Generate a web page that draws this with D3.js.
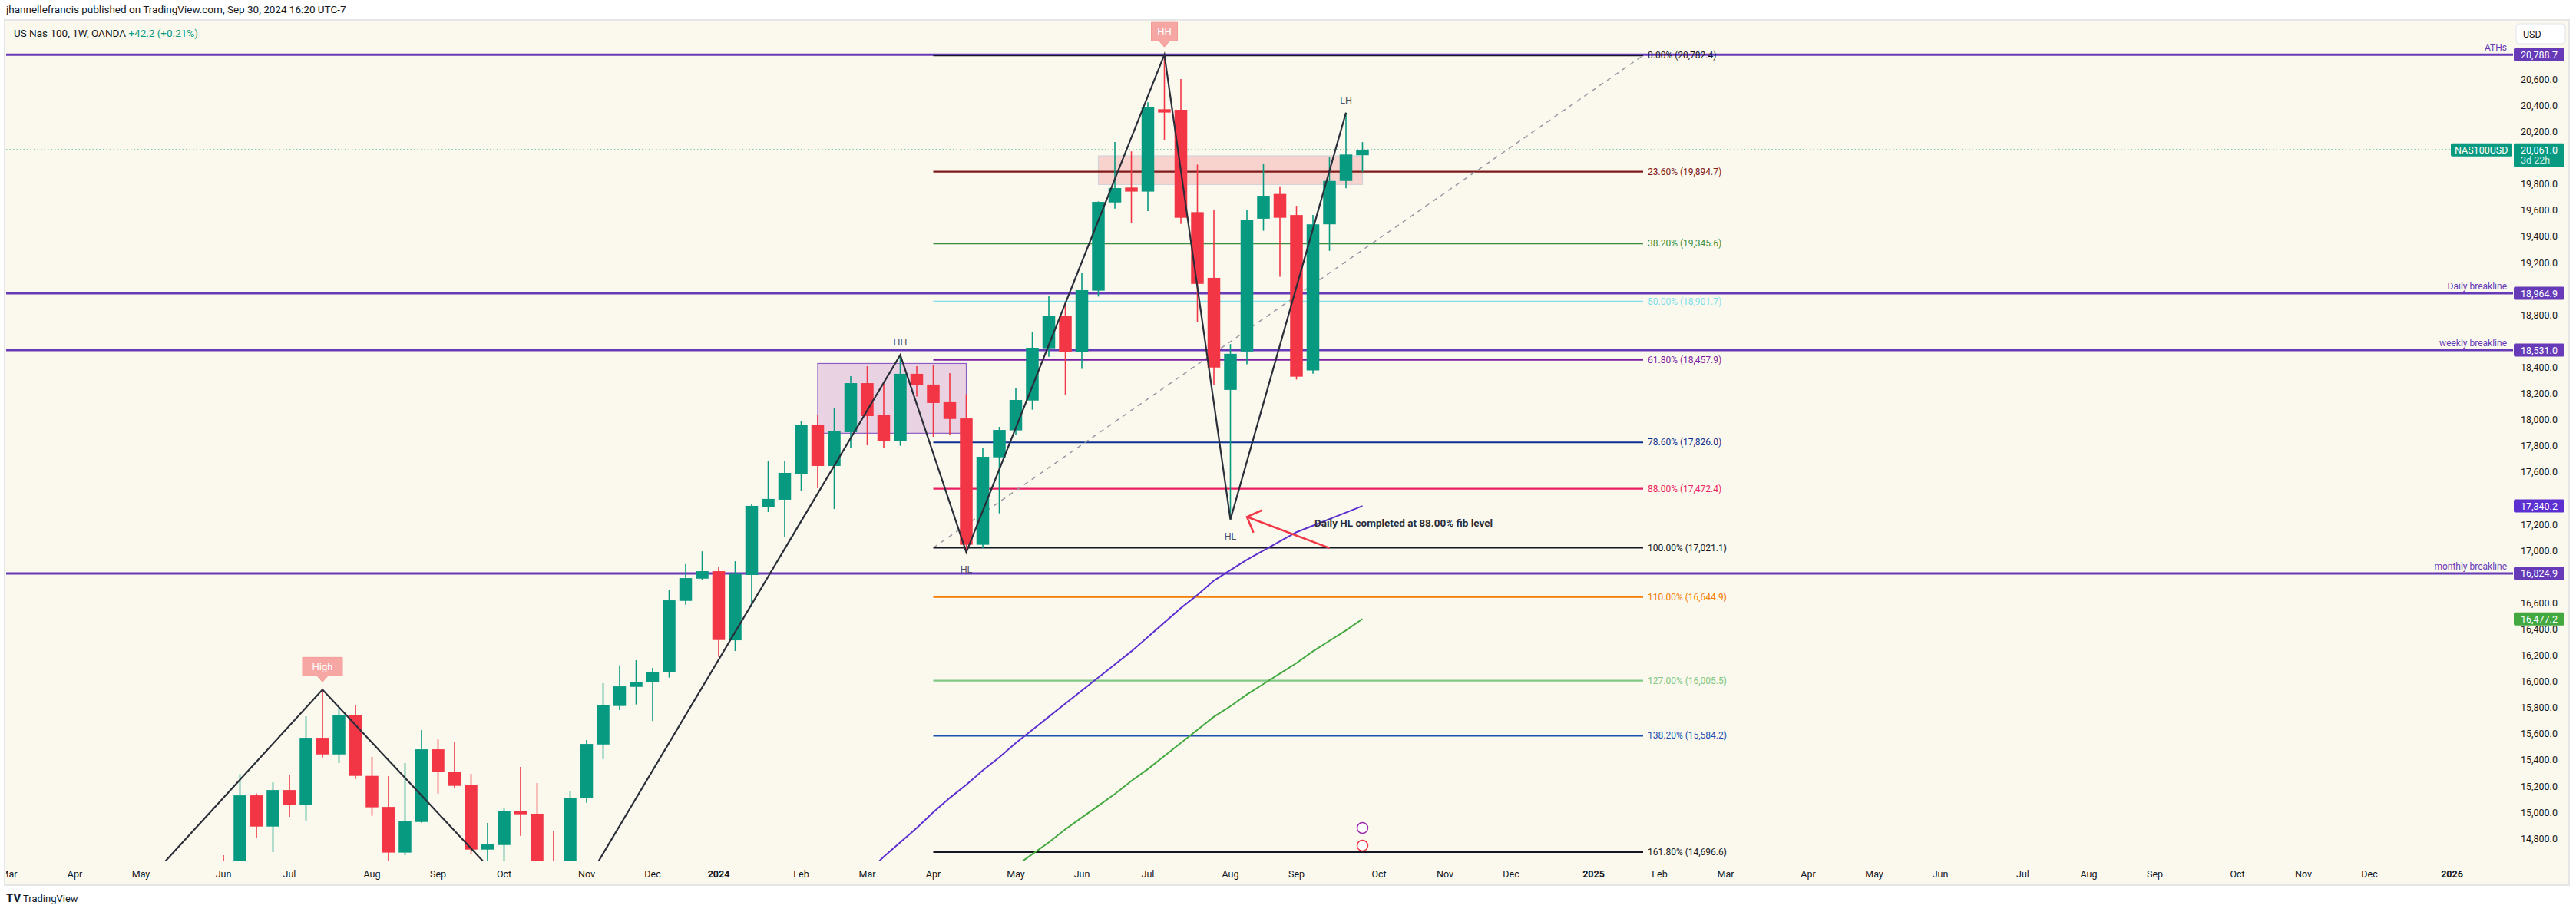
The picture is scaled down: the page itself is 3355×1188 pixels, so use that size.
<!DOCTYPE html>
<html><head><meta charset="utf-8">
<script src="https://cdn.jsdelivr.net/npm/d3@7"></script>
<style>body{margin:0;background:#fff}svg{display:block;font-family:Roboto,"Noto Sans",sans-serif}</style>
</head><body><svg id="c" width="3355" height="1188"></svg>
<script>
// ---------- DATA ----------
const firstWeek = "2023-06-05";
const opens  = [14560,14500,15129,14891,15170,15055,15569,15442,15745,15278,15041,14692,14926,15481,15311,15206,14715,14750,15012,14989,14520,14200,15108,15518,15812,15958,15994,16070,16615,16785,16842,16314,16813,17335,17388,17587,17957,17646,17904,18279,18033,17835,18350,18268,18133,18009,17044,17712,17918,18146,18545,18795,18516,18985,19659,19773,19742,20371,20367,19585,19083,18227,18521,19535,19724,19563,18376,19492,19823,20020];
const highs  = [14672,15292,15145,15229,15282,15734,15937,15800,15816,15423,15276,15376,15628,15556,15540,15294,14918,15032,15346,15223,14860,15159,15552,15986,16123,16162,16103,16696,16897,16994,16871,16918,17353,17681,17681,17986,18039,18092,18332,18408,18273,18494,18408,18414,18355,18195,17781,17945,18244,18666,18942,18901,19118,19667,20121,20049,20424,20788.7,20602,19948,19601,18577,19599,19955,19782,19633,19563,20004,20345,20120];
const lows   = [14300,14480,14803,14696,14965,14938,15419,15376,15255,14973,14608,14672,14920,15143,15184,14680,14560,14608,14820,14480,14050,14150,15073,15407,15781,15824,15697,16029,16586,16774,16189,16232,16567,17294,17106,17458,17476,17317,17786,17804,17781,17800,18176,17869,17880,16983,17018,17284,17882,18076,18480,18187,18387,18940,19612,19501,19593,20138,19495,18745,18265,17237,18423,19443,19092,18306,18351,19289,19767,19891];
const closes = [14500,15129,14891,15170,15055,15569,15442,15745,15278,15038,14692,14930,15481,15307,15202,14715,14754,15012,14985,14520,14200,15112,15522,15816,15962,15997,16074,16619,16789,16842,16316,16821,17341,17394,17593,17957,17646,17910,18279,18027,17835,18350,18264,18127,18005,17044,17716,17921,18150,18549,18795,18516,18989,19663,19769,19742,20385,20346,19542,19037,18398,18503,19526,19710,19542,18328,19492,19823,20025,20061];
const maPurpleWeeks = [38,39,40,41,42,43,44,45,46,47,48,49,50,51,52,53,54,55,56,57,58,59,60,61,62,63,64,65,66,67,68,69];
const maPurple = [14420,14540,14660,14770,14880,15000,15110,15210,15320,15420,15530,15630,15730,15830,15930,16030,16130,16230,16340,16450,16560,16660,16770,16850,16930,17000,17070,17140,17190,17240,17290,17340.2];
const maGreenWeeks = [48,49,50,51,52,53,54,55,56,57,58,59,60,61,62,63,64,65,66,67,68,69];
const maGreen = [14590,14680,14770,14870,14960,15050,15140,15240,15330,15430,15530,15630,15730,15810,15900,15980,16060,16140,16230,16310,16390,16477.2];
const zigWeeks  = [-4,6,20,41,45,57,61,68];
const zigPrices = [14560,15937,14050,18494,16987,20788.7,17237,20345];
const hLevels = [20788.7,18964.9,18531.0,16824.9];
const hLabels = ["ATHs","Daily breakline","weekly breakline","monthly breakline"];
const fibRatios = ["0.00%","23.60%","38.20%","50.00%","61.80%","78.60%","88.00%","100.00%","110.00%","127.00%","138.20%","161.80%"];
const fibPrices = [20782.4,19894.7,19345.6,18901.7,18457.9,17826.0,17472.4,17021.1,16644.9,16005.5,15584.2,14696.6];
const fibColors = ["#131722","#7f1a1a","#388e3c","#80deea","#7b1fa2","#0c2f8f","#e91e63","#131722","#f57c00","#81c784","#1a4fb0","#131722"];
const fibStartWeek = 43, fibEndWeek = 86;
const priceTicks = d3.range(14800, 20601, 200);
const lastPrice = 20061.0;

// ---------- SCALES ----------
const svg = d3.select("#c");
const W=3355,H=1188, L=8, R=3273, T=27, B=1122;
const t0 = new Date(2023,5,5);
const x = d3.scaleTime().domain([t0, new Date(2026,0,5)]).range([291, 291+945*21.5/7]);
const wx = i => x(d3.timeHour.offset(t0, i*168));
const y = d3.scaleLinear().domain([20600,14800]).range([103.3, 103.3+5800*0.1705]);
const fmt = d3.format(",.1f");

// panel
svg.append("rect").attr("x",6).attr("y",26).attr("width",3340).attr("height",1127).attr("fill","#fbf9ee").attr("stroke","#e6e6e6").attr("stroke-width",2);
svg.append("text").attr("x",8).attr("y",17).attr("font-size",13.5).attr("fill","#131722").text("jhannellefrancis published on TradingView.com, Sep 30, 2024 16:20 UTC-7");
const hdr = svg.append("text").attr("x",18).attr("y",48).attr("font-size",13.5).attr("fill","#131722");
hdr.append("tspan").text("US Nas 100, 1W, OANDA  ");
hdr.append("tspan").attr("fill","#089981").text("+42.2 (+0.21%)");

svg.append("clipPath").attr("id","pc").append("rect").attr("x",L).attr("y",T).attr("width",R-L).attr("height",B-T);
const g = svg.append("g").attr("clip-path","url(#pc)");

// current price dotted
g.append("line").attr("x1",L).attr("x2",R).attr("y1",y(lastPrice)).attr("y2",y(lastPrice)).attr("stroke","#089981").attr("stroke-width",1.2).attr("stroke-dasharray","1.5,3");

// rectangles
g.append("rect").attr("x",wx(36)).attr("width",wx(45)-wx(36)).attr("y",y(18429)).attr("height",y(17896)-y(18429)).attr("fill","rgba(156,39,176,0.18)").attr("stroke","#8e5cc6").attr("stroke-width",1.2);
g.append("rect").attr("x",wx(53)).attr("width",wx(69)-wx(53)).attr("y",y(20015)).attr("height",y(19796)-y(20015)).attr("fill","rgba(242,54,69,0.2)").attr("stroke","#d4d4d8").attr("stroke-width",1.2);

// horizontal breaklines
hLevels.forEach((p,i)=>{
  g.append("line").attr("x1",L).attr("x2",R).attr("y1",y(p)).attr("y2",y(p)).attr("stroke","#673ab7").attr("stroke-width",3);
  g.append("text").attr("x",R-8).attr("y",y(p)-5).attr("text-anchor","end").attr("font-size",12).attr("fill","#673ab7").text(hLabels[i]);
});

// fib
fibPrices.forEach((p,i)=>{
  g.append("line").attr("x1",wx(fibStartWeek)).attr("x2",wx(fibEndWeek)).attr("y1",y(p)).attr("y2",y(p)).attr("stroke",fibColors[i]).attr("stroke-width",2.2);
  g.append("text").attr("x",wx(fibEndWeek)+6).attr("y",y(p)+4).attr("font-size",12).attr("fill",fibColors[i]).text(`${fibRatios[i]} (${fmt(p)})`);
});
g.append("line").attr("x1",wx(fibStartWeek)).attr("y1",y(fibPrices[7])).attr("x2",wx(fibEndWeek)).attr("y2",y(fibPrices[0])).attr("stroke","#9598a1").attr("stroke-width",1.5).attr("stroke-dasharray","6,6");

// MAs
const ln = d3.line().x(d=>wx(d[0])).y(d=>y(d[1]));
g.append("path").attr("d",ln(maPurpleWeeks.map((w,i)=>[w,maPurple[i]]))).attr("fill","none").attr("stroke","#5b2fd0").attr("stroke-width",2);
g.append("path").attr("d",ln(maGreenWeeks.map((w,i)=>[w,maGreen[i]]))).attr("fill","none").attr("stroke","#43a83f").attr("stroke-width",2);

// candles
const bw = 16.5;
opens.forEach((o,i)=>{
  const c=closes[i], col = c>=o ? "#089981" : "#f23645", cx=wx(i);
  g.append("line").attr("x1",cx).attr("x2",cx).attr("y1",y(highs[i])).attr("y2",y(lows[i])).attr("stroke",col).attr("stroke-width",1.6);
  g.append("rect").attr("x",cx-bw/2).attr("width",bw).attr("y",y(Math.max(o,c))).attr("height",Math.max(1.5,Math.abs(y(o)-y(c)))).attr("fill",col);
});

// zigzag
g.append("path").attr("d",ln(zigWeeks.map((w,i)=>[w,zigPrices[i]]))).attr("fill","none").attr("stroke","#2a2e39").attr("stroke-width",2.2);

// pattern labels
function pinkLabel(i,p,txt){
  const cx=wx(i), cy=y(p), w=txt.length*9+16;
  g.append("path").attr("d",`M${cx-w/2},${cy-42} h${w} v24 h${-(w/2-7)} l-7,8 l-7,-8 h${-(w/2-7)} z`).attr("fill","#f7a7a3").attr("stroke","#f49a96");
  g.append("text").attr("x",cx).attr("y",cy-25).attr("text-anchor","middle").attr("font-size",13).attr("fill","#fff").text(txt);
}
pinkLabel(6,15937,"High");
pinkLabel(57,20788.7,"HH");
function grayLabel(i,p,txt,dy){ g.append("text").attr("x",wx(i)).attr("y",y(p)+dy).attr("text-anchor","middle").attr("font-size",12.5).attr("fill","#50535e").text(txt); }
grayLabel(41,18494,"HH",-12); grayLabel(45,16983,"HL",26); grayLabel(61,17237,"HL",26); grayLabel(68,20345,"LH",-12);

// annotation arrow
g.append("line").attr("x1",wx(67)).attr("y1",y(17019)).attr("x2",wx(62)).attr("y2",y(17257)).attr("stroke","#f23645").attr("stroke-width",2.5);
g.append("polyline").attr("points",`${wx(62.9)},${y(17307)} ${wx(62)},${y(17257)} ${wx(62.4)},${y(17137)}`).attr("fill","none").attr("stroke","#f23645").attr("stroke-width",2.5);
g.append("text").attr("x",wx(66.1)).attr("y",y(17212)+5).attr("font-size",13.5).attr("font-weight","bold").attr("fill","#2a2e39").text("Daily HL completed at 88.00% fib level");

// small icons
[[69,14880,"#9c27b0"],[69,14745,"#f23645"]].forEach(d=>{g.append("circle").attr("cx",wx(d[0])).attr("cy",y(d[1])).attr("r",7).attr("fill","#fff").attr("stroke",d[2]).attr("stroke-width",1.5);});

// x axis
const ticks=[]; for(let m=d3.timeMonth.ceil(new Date(2023,1,20)); m<new Date(2026,1,1); m=d3.timeMonth.offset(m,1)) ticks.push(d3.timeMonday.ceil(m));
const xa = svg.append("g").attr("clip-path","url(#xc)");
svg.append("clipPath").attr("id","xc").append("rect").attr("x",L).attr("y",B).attr("width",R-L).attr("height",30);
ticks.forEach(d=>{
  const yr = d.getMonth()===0;
  xa.append("text").attr("x",x(d)).attr("y",1143).attr("text-anchor","middle").attr("font-size",12.5).attr("font-weight",yr?"bold":"normal").attr("fill","#131722").text(yr?d3.timeFormat("%Y")(d):d3.timeFormat("%b")(d));
});

// price axis
const boxes=[[20788.7,"#673ab7"],[18964.9,"#673ab7"],[18531.0,"#673ab7"],[17340.2,"#5b2fd0"],[16824.9,"#673ab7"],[16477.2,"#43a83f"]];
priceTicks.forEach(p=>{
  if(Math.abs(y(p)-y(lastPrice))<20) return;
  if(boxes.some(b=>Math.abs(y(p)-y(b[0]))<12)) return;
  svg.append("text").attr("x",3283).attr("y",y(p)+4.5).attr("font-size",12.5).attr("fill","#131722").text(fmt(p));
});
boxes.forEach(b=>{
  svg.append("rect").attr("x",3274).attr("y",y(b[0])-8.5).attr("width",66).attr("height",17).attr("rx",2).attr("fill",b[1]);
  svg.append("text").attr("x",3283).attr("y",y(b[0])+4.5).attr("font-size",12.5).attr("fill","#fff").text(fmt(b[0]));
});
svg.append("rect").attr("x",3274).attr("y",y(lastPrice)-8.5).attr("width",66).attr("height",31).attr("rx",2).attr("fill","#089981");
svg.append("text").attr("x",3283).attr("y",y(lastPrice)+4.5).attr("font-size",12.5).attr("fill","#fff").text(fmt(lastPrice));
svg.append("text").attr("x",3283).attr("y",y(lastPrice)+18).attr("font-size",12.5).attr("fill","#cfeee8").text("3d 22h");
svg.append("rect").attr("x",3192).attr("y",y(lastPrice)-8.5).attr("width",80).attr("height",17).attr("rx",2).attr("fill","#089981");
svg.append("text").attr("x",3197).attr("y",y(lastPrice)+4.5).attr("font-size",12.5).attr("fill","#fff").text("NAS100USD");
svg.append("rect").attr("x",3277).attr("y",31).attr("width",64).attr("height",26).attr("rx",4).attr("fill","#fff").attr("stroke","#e0e3eb");
svg.append("text").attr("x",3286).attr("y",48.5).attr("font-size",12.5).attr("fill","#131722").text("USD");

// footer
svg.append("text").attr("x",8).attr("y",1175).attr("font-size",15).attr("font-weight","bold").attr("fill","#131722").text("TV");
svg.append("text").attr("x",30).attr("y",1175).attr("font-size",13).attr("fill","#131722").text("TradingView");
</script></body></html>
